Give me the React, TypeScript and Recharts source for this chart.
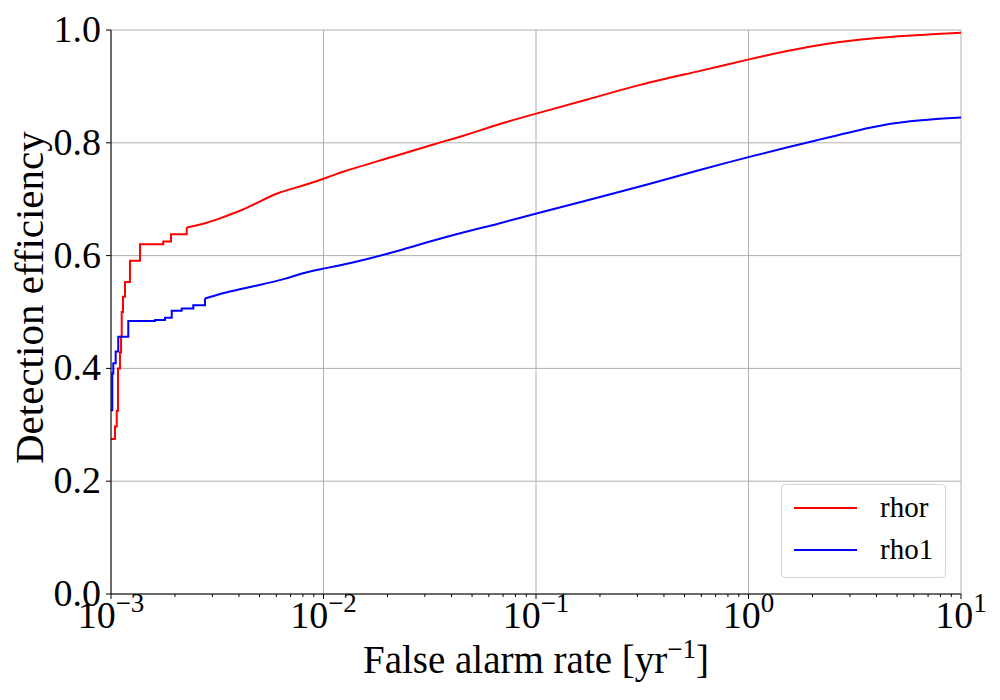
import React from "react";
import {
  LineChart,
  Line,
  XAxis,
  YAxis,
  CartesianGrid,
  Legend,
} from "recharts";

// False alarm rate [1/yr] vs detection efficiency
// the first part is a coarse staircase, the rest is almost smooth
const RED_STEP_FAR = [
  0.001, 1.044e-3, 1.064e-3, 1.079e-3, 1.102e-3, 1.115e-3, 1.123e-3, 1.139e-3,
  1.164e-3, 1.228e-3, 1.369e-3, 1.762e-3, 1.916e-3, 2.271e-3,
];
const RED_STEP_EFF = [
  0.275, 0.297, 0.325, 0.4, 0.428, 0.456, 0.5, 0.527, 0.553, 0.591, 0.62,
  0.625, 0.638, 0.65,
];
const RED_FAR = [
  2.271e-3, 2.672e-3, 3.258e-3, 4.122e-3, 5.025e-3, 6.023e-3, 7.48e-3, 9.29e-3,
  0.01196, 0.01984, 0.0341, 0.0472, 0.0677, 0.1008, 0.1732, 0.3087, 0.5912, 1.0,
  1.878, 3.854, 10,
];
const RED_EFF = [
  0.65, 0.655, 0.666, 0.68, 0.696, 0.711, 0.721, 0.731, 0.748, 0.772, 0.799,
  0.814, 0.834, 0.852, 0.876, 0.904, 0.927, 0.948, 0.971, 0.987, 0.995,
];

const BLUE_STEP_FAR = [
  0.001, 1.014e-3, 1.025e-3, 1.052e-3, 1.082e-3, 1.206e-3, 1.611e-3, 1.795e-3,
  1.931e-3, 2.151e-3, 2.439e-3, 2.769e-3,
];
const BLUE_STEP_EFF = [
  0.326, 0.391, 0.409, 0.43, 0.456, 0.484, 0.486, 0.49, 0.502, 0.506, 0.512,
  0.524,
];
const BLUE_FAR = [
  2.769e-3, 3.631e-3, 5.025e-3, 6.713e-3, 7.752e-3, 9.628e-3, 0.01333, 0.02056,
  0.038, 0.0677, 0.1008, 0.1669, 0.344, 0.5912, 1.0, 2.17, 3.854, 5.553, 10,
];
const BLUE_EFF = [
  0.524, 0.537, 0.548, 0.559, 0.568, 0.576, 0.586, 0.604, 0.634, 0.657, 0.675,
  0.696, 0.727, 0.752, 0.775, 0.806, 0.829, 0.839, 0.845,
];

const SERIES = [
  { name: "rhor", color: "#ff0000" },
  { name: "rho1", color: "#0000ff" },
];

const MAJOR_X = [0.001, 0.01, 0.1, 1, 10];
const MAJOR_EXP = ["\u22123", "\u22122", "\u22121", "0", "1"];
const MINOR_X = [2, 3, 4, 5, 6, 7, 8, 9].flatMap((m) => [m * 1e-3, m * 1e-2, m * 1e-1, m]);
const Y_TICKS = [0, 0.2, 0.4, 0.6, 0.8, 1.0];

const FONT = '"Liberation Serif", "DejaVu Serif", serif';

const zip = (xs: number[], ys: number[]) => xs.map((far, i) => ({ far, eff: ys[i] }));

const redStep = zip(RED_STEP_FAR, RED_STEP_EFF);
const redSmooth = zip(RED_FAR, RED_EFF);
const blueStep = zip(BLUE_STEP_FAR, BLUE_STEP_EFF);
const blueSmooth = zip(BLUE_FAR, BLUE_EFF);

function XTick(props: any) {
  const { x, y, payload } = props;
  const idx = MAJOR_X.findIndex((v) => Math.abs(v - payload.value) < v * 1e-6);
  const major = idx >= 0;
  return (
    <g>
      <line x1={x} x2={x} y1={y} y2={y + (major ? 5 : 3)} stroke="#000" strokeWidth={1} />
      {major && (
        <text x={x} y={y + 34} textAnchor="middle" fontFamily={FONT} fontSize={38} fill="#000">
          10
          <tspan dy={-16} fontSize={27}>
            {MAJOR_EXP[idx]}
          </tspan>
        </text>
      )}
    </g>
  );
}

function YTick(props: any) {
  const { x, y, payload } = props;
  return (
    <g>
      <line x1={x - 5} x2={x} y1={y} y2={y} stroke="#000" strokeWidth={1} />
      <text x={x - 10} y={y + 12} textAnchor="end" fontFamily={FONT} fontSize={38} fill="#000">
        {payload.value.toFixed(1)}
      </text>
    </g>
  );
}

function LegendBox() {
  return (
    <div
      style={{
        position: "relative",
        width: 165,
        height: 94,
        boxSizing: "border-box",
        border: "1px solid #d5d5d5",
        borderRadius: 4,
        background: "rgba(255,255,255,0.8)",
        fontFamily: FONT,
        fontSize: 29,
      }}
    >
      {SERIES.map((s, i) => (
        <div key={s.name}>
          <div
            style={{
              position: "absolute",
              left: 12,
              top: 22 + i * 42,
              width: 63,
              height: 2,
              background: s.color,
            }}
          />
          <div style={{ position: "absolute", left: 98, top: 4 + i * 42, lineHeight: "36px" }}>
            {s.name}
          </div>
        </div>
      ))}
    </div>
  );
}

export default function App() {
  return (
    <div style={{ position: "absolute", left: 0, top: 0, width: 1000, height: 700, background: "#fff" }}>
      <LineChart width={1000} height={700} margin={{ top: 30, right: 39, bottom: 0, left: 0 }}>
        <CartesianGrid
          stroke="#b0b0b0"
          strokeWidth={1}
          verticalCoordinatesGenerator={({ xAxis, offset }: any) =>
            MAJOR_X.map((v) =>
              xAxis && typeof xAxis.scale === "function"
                ? xAxis.scale(v)
                : offset.left + (offset.width * (Math.log10(v) + 3)) / 4
            )
          }
        />
        <XAxis
          dataKey="far"
          type="number"
          scale="log"
          domain={[0.001, 10]}
          allowDataOverflow
          ticks={[...MAJOR_X, ...MINOR_X]}
          interval={0}
          height={106}
          tickSize={0}
          tickMargin={0}
          tickLine={false}
          tick={<XTick />}
          axisLine={{ stroke: "#000", strokeWidth: 1 }}
          label={{
            content: ({ viewBox }: any) => (
              <text
                x={viewBox.x + viewBox.width / 2}
                y={viewBox.y + 79}
                textAnchor="middle"
                fontFamily={FONT}
                fontSize={39}
                fill="#000"
              >
                False alarm rate [yr
                <tspan dy={-15} fontSize={27}>
                  {"\u22121"}
                </tspan>
                <tspan dy={15} fontSize={39}>
                  ]
                </tspan>
              </text>
            ),
          }}
        />
        <XAxis
          xAxisId="top"
          orientation="top"
          dataKey="far"
          type="number"
          scale="log"
          domain={[0.001, 10]}
          allowDataOverflow
          height={0}
          tick={false}
          tickLine={false}
          axisLine={{ stroke: "#000", strokeWidth: 1 }}
        />
        <YAxis
          type="number"
          domain={[0, 1]}
          ticks={Y_TICKS}
          interval={0}
          width={111}
          tickSize={0}
          tickMargin={0}
          tickLine={false}
          tick={<YTick />}
          axisLine={{ stroke: "#000", strokeWidth: 1 }}
          label={{
            content: ({ viewBox }: any) => {
              const cx = 43;
              const cy = viewBox.y + viewBox.height / 2 + 152;
              return (
                <text
                  x={cx}
                  y={cy}
                  transform={`rotate(-90, ${cx}, ${cy})`}
                  textAnchor="start"
                  fontFamily={FONT}
                  fontSize={41}
                  fill="#000"
                >
                  Detection efficiency
                </text>
              );
            },
          }}
        />
        <YAxis
          yAxisId="right"
          orientation="right"
          type="number"
          domain={[0, 1]}
          width={0}
          tick={false}
          tickLine={false}
          axisLine={{ stroke: "#000", strokeWidth: 1 }}
        />
        <Line data={redStep} dataKey="eff" name="rhor" type="stepAfter" stroke="#ff0000" strokeWidth={2} dot={false} isAnimationActive={false} />
        <Line data={redSmooth} dataKey="eff" name="rhor " type="basis" stroke="#ff0000" strokeWidth={2} dot={false} isAnimationActive={false} />
        <Line data={blueStep} dataKey="eff" name="rho1" type="stepAfter" stroke="#0000ff" strokeWidth={2} dot={false} isAnimationActive={false} />
        <Line data={blueSmooth} dataKey="eff" name="rho1 " type="basis" stroke="#0000ff" strokeWidth={2} dot={false} isAnimationActive={false} />
        <Legend
          layout="horizontal"
          verticalAlign="middle"
          align="center"
          content={() => <LegendBox />}
          wrapperStyle={{ left: 781, top: 484, width: 165, height: 94 }}
        />
      </LineChart>
    </div>
  );
}
